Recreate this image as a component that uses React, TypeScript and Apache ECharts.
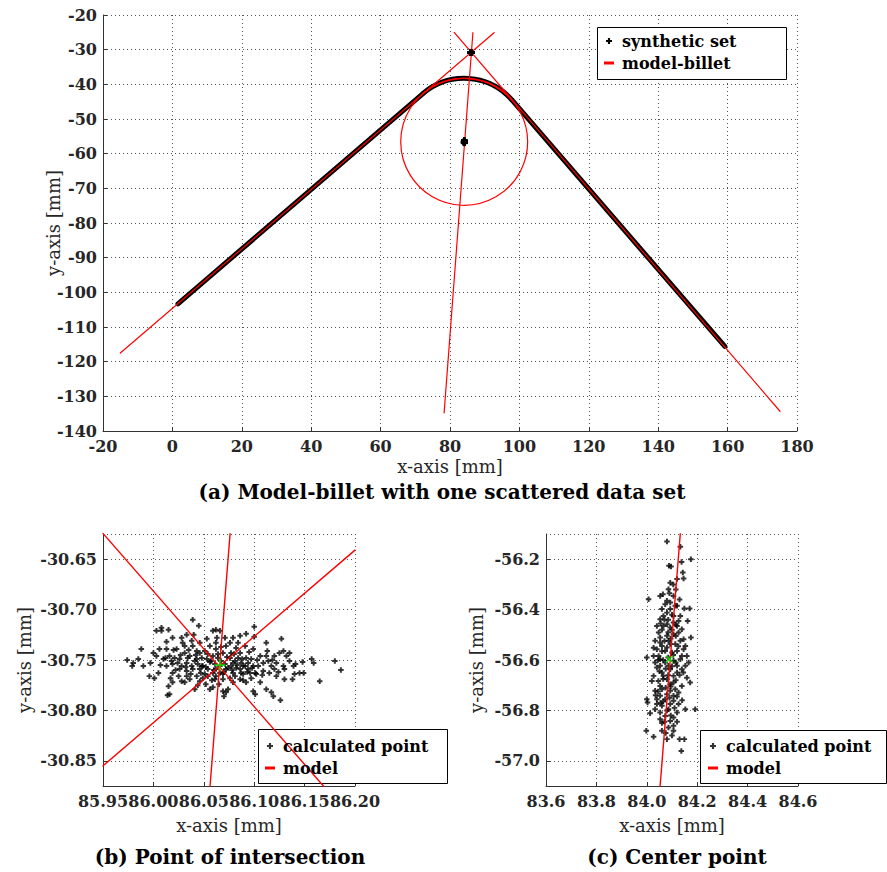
import React, { useEffect, useRef } from "react";
import * as echarts from "echarts";

const FONT = "DejaVu Serif";

// ---------- (a) model-billet ----------
const xTicksA = { min: -20, max: 180, interval: 20 };
const yTicksA = { min: -140, max: -20, interval: 10 };
const bandLeftSegment = [[1.6, -103.3], [72.2, -42.7]];
const bandRightSegment = [[97.96, -44.66], [159.2, -115.6]];
// cx, cy, r, arc from angle, arc to angle (deg, data frame)
const profileArc = [[84.09, -56.59, 18.3, 40.7, 130.6]];
const modelLeftLine = [[-15, -117.5], [92.7, -25.1]];
const modelRightLine = [[81.2, -25.0], [175.1, -134.3]];
const modelBisectorA = [[78.3, -134.8], [86.6, -25.1]];
const modelCircle = [[84.09, -56.59, 18.3]];

// ---------- (b) point of intersection ----------
const xRangeB = { min: 85.95, max: 86.2, interval: 0.05 };
const yRangeB = { min: -30.875, max: -30.625 };
const pointsB = [
  [86.180,-30.751],[86.186,-30.760],[86.165,-30.771],[86.157,-30.749],[86.159,-30.753],[86.148,-30.752],[86.141,-30.754],[86.149,-30.763],[86.145,-30.763],[86.140,-30.764],
  [86.126,-30.790],[86.127,-30.729],[86.138,-30.769],[86.130,-30.769],[86.130,-30.759],[86.125,-30.743],[86.129,-30.741],[86.120,-30.746],[86.112,-30.733],[86.100,-30.717],
  [86.086,-30.726],[86.092,-30.724],[86.079,-30.728],[86.076,-30.733],[86.066,-30.721],[86.062,-30.720],[86.059,-30.721],[86.045,-30.716],[86.039,-30.710],[86.033,-30.725],
  [86.028,-30.728],[86.019,-30.728],[86.013,-30.732],[86.008,-30.721],[86.003,-30.721],[86.008,-30.718],[86.015,-30.720],[85.980,-30.753],[85.979,-30.756],[85.988,-30.739],
  [85.985,-30.749],[85.990,-30.756],[85.997,-30.753],[86.000,-30.743],[86.003,-30.746],[85.996,-30.766],[86.001,-30.768],[86.005,-30.763],[86.015,-30.776],[86.016,-30.784],
  [86.019,-30.772],[86.028,-30.771],[86.031,-30.772],[86.033,-30.766],[86.041,-30.779],[86.046,-30.771],[86.056,-30.779],[86.059,-30.777],[86.069,-30.781],[86.072,-30.782],
  [86.074,-30.779],[86.079,-30.772],[86.086,-30.769],[86.092,-30.772],[86.099,-30.781],[86.101,-30.784],[86.106,-30.772],[86.112,-30.779],[86.117,-30.782],[86.119,-30.786],
  [86.122,-30.766],[86.109,-30.761],[86.099,-30.756],[86.089,-30.756],[86.079,-30.753],[86.092,-30.748],[86.106,-30.746],[86.112,-30.746],[86.099,-30.739],[86.086,-30.743],
  [86.082,-30.738],[86.072,-30.736],[86.062,-30.739],[86.059,-30.746],[86.053,-30.749],[86.046,-30.743],[86.043,-30.749],[86.036,-30.746],[86.033,-30.753],[86.026,-30.749],
  [86.019,-30.754],[86.016,-30.746],[86.023,-30.739],[86.029,-30.733],[86.039,-30.736],[86.046,-30.733],[86.053,-30.729],[86.049,-30.756],[86.054,-30.759],[86.059,-30.763],
  [86.066,-30.756],[86.072,-30.759],[86.079,-30.763],[86.086,-30.759],[86.076,-30.748],[86.069,-30.743],[86.062,-30.733],[86.046,-30.759],[86.039,-30.759],[86.033,-30.761],
  [86.026,-30.759],[86.019,-30.763],[86.013,-30.756],[86.010,-30.749],[86.006,-30.739],[86.013,-30.739],[86.036,-30.769],[86.043,-30.766],[86.049,-30.768],[86.062,-30.766],
  [86.069,-30.769],[86.076,-30.768],[86.081,-30.766],[86.089,-30.764],[86.096,-30.763],[86.102,-30.764],[86.115,-30.763],[86.129,-30.756],[86.122,-30.753],[86.132,-30.746],
  [86.135,-30.743],[86.135,-30.751],[86.139,-30.756],[86.014,-30.785],[85.974,-30.750],
  [86.051,-30.741],[86.054,-30.744],[86.057,-30.751],[86.061,-30.754],[86.064,-30.748],[86.067,-30.751],[86.071,-30.754],[86.074,-30.758],[86.077,-30.756],[86.081,-30.751],
  [86.084,-30.748],[86.087,-30.753],[86.091,-30.756],[86.094,-30.753],[86.097,-30.749],[86.048,-30.748],[86.044,-30.754],[86.041,-30.751],[86.038,-30.756],[86.034,-30.748],
  [86.031,-30.743],[86.028,-30.756],[86.024,-30.753],[86.021,-30.748],[86.018,-30.751],[86.062,-30.759],[86.066,-30.763],[86.069,-30.764],[86.082,-30.758],[86.087,-30.763],
  [86.094,-30.759],[86.097,-30.768],[86.101,-30.763],[86.104,-30.756],[86.109,-30.753],[86.114,-30.751],[86.117,-30.756],[86.120,-30.759],[86.061,-30.769],[86.054,-30.766],
  [86.051,-30.764],[86.048,-30.756],[86.067,-30.737],[86.077,-30.743],[86.084,-30.733],[86.091,-30.736],[86.056,-30.736],[86.043,-30.741],[86.031,-30.736],[86.038,-30.731],
  [86.056,-30.752],[86.060,-30.760],[86.064,-30.744],[86.070,-30.762],[86.073,-30.747],[86.078,-30.760],[86.083,-30.755],[86.088,-30.749],[86.093,-30.762],[86.098,-30.758],
  [86.052,-30.757],[86.047,-30.763],[86.042,-30.745],[86.037,-30.764],[86.032,-30.757],[86.027,-30.745],[86.022,-30.760],[86.017,-30.768],[86.012,-30.748],[86.007,-30.755],
  [86.058,-30.770],[86.065,-30.774],[86.071,-30.728],[86.080,-30.744],[86.095,-30.742],[86.103,-30.750],[86.108,-30.765],[86.113,-30.741],[86.118,-30.750],[86.124,-30.762],
  [86.044,-30.775],[86.035,-30.740],[86.025,-30.766],[86.052,-30.774],[86.063,-30.728],[86.089,-30.770],[86.100,-30.727],[86.070,-30.786],[86.040,-30.725],[86.020,-30.740],
];
const modelAscB = [[85.95, -30.855], [86.2, -30.641]];
const modelDescB = [[85.94, -30.613], [86.18, -30.888]];
const modelBisB = [[86.055, -30.89], [86.077, -30.613]];
const intersectionModel = [[86.066, -30.755]];

// ---------- (c) center point ----------
const xRangeC = { min: 83.6, max: 84.6, interval: 0.2 };
const yRangeC = { min: -57.1, max: -56.1 };
const pointsC = [
  [84.080,-56.130],[84.175,-56.200],[84.133,-56.151],[84.138,-56.211],[84.088,-56.226],[84.096,-56.229],[84.143,-56.253],[84.146,-56.277],[84.120,-56.279],[84.093,-56.293],
  [84.086,-56.319],[84.064,-56.339],[84.053,-56.346],[84.106,-56.346],[84.007,-56.359],[84.093,-56.372],[84.120,-56.385],[84.149,-56.396],[84.170,-56.396],[84.060,-56.398],
  [84.080,-56.412],[84.106,-56.425],[84.133,-56.425],[84.053,-56.438],[84.162,-56.445],[84.040,-56.465],[84.066,-56.465],[84.093,-56.471],[84.120,-56.465],[84.139,-56.478],
  [84.175,-56.511],[84.106,-56.498],[84.080,-56.504],[84.053,-56.511],[84.033,-56.524],[84.133,-56.524],[84.153,-56.544],[84.093,-56.537],[84.060,-56.544],[84.040,-56.557],
  [84.120,-56.564],[84.000,-56.590],[84.027,-56.584],[84.053,-56.597],[84.073,-56.610],[84.106,-56.603],[84.133,-56.597],[84.153,-56.623],[84.040,-56.630],[84.060,-56.650],
  [84.093,-56.637],[84.120,-56.650],[84.159,-56.670],[84.020,-56.683],[84.046,-56.683],[84.080,-56.676],[84.106,-56.689],[84.139,-56.703],[84.033,-56.722],[84.060,-56.716],
  [84.093,-56.722],[84.126,-56.729],[84.000,-56.756],[84.003,-56.769],[84.040,-56.756],[84.073,-56.756],[84.106,-56.762],[84.153,-56.795],[84.192,-56.795],[84.013,-56.811],
  [84.053,-56.808],[84.086,-56.795],[84.120,-56.808],[84.053,-56.835],[84.093,-56.842],[84.106,-56.861],[84.086,-56.868],[83.998,-56.881],[84.060,-56.881],[84.106,-56.881],
  [84.027,-56.905],[84.080,-56.914],[84.130,-56.914],[84.149,-56.914],[84.137,-56.961],
  [84.066,-56.425],[84.047,-56.491],[84.126,-56.491],[84.086,-56.524],[84.113,-56.537],[84.073,-56.564],[84.100,-56.570],[84.047,-56.584],[84.120,-56.623],[84.086,-56.623],
  [84.053,-56.623],[84.106,-56.663],[84.066,-56.663],[84.093,-56.696],[84.053,-56.703],[84.113,-56.716],[84.080,-56.736],[84.053,-56.742],[84.106,-56.742],[84.093,-56.775],
  [84.060,-56.782],[84.126,-56.775],[84.073,-56.822],[84.106,-56.828],[84.033,-56.795],[84.139,-56.584],[84.139,-56.637],[84.033,-56.610],[84.027,-56.663],[84.159,-56.584],
  [84.146,-56.557],[84.080,-56.458],[84.106,-56.451],[84.126,-56.445],[84.093,-56.398],[84.113,-56.385],[84.073,-56.379],[84.053,-56.531],[84.146,-56.518],[84.027,-56.551],
  [84.166,-56.610],[84.172,-56.689],
  [84.070,-56.440],[84.100,-56.480],[84.085,-56.490],[84.060,-56.480],[84.115,-56.505],[84.095,-56.515],[84.070,-56.525],[84.125,-56.545],[84.080,-56.550],[84.060,-56.565],
  [84.105,-56.580],[84.085,-56.590],[84.065,-56.600],[84.115,-56.610],[84.100,-56.625],[84.075,-56.635],[84.050,-56.645],[84.130,-56.660],[84.085,-56.660],[84.065,-56.675],
  [84.115,-56.680],[84.095,-56.705],[84.075,-56.710],[84.045,-56.725],[84.120,-56.745],[84.090,-56.750],[84.065,-56.765],[84.040,-56.775],[84.110,-56.790],[84.080,-56.800],
  [84.070,-56.845],[84.095,-56.820],[84.060,-56.850],[84.120,-56.845],[84.085,-56.440],[84.115,-56.460],[84.055,-56.455],[84.100,-56.420],[84.080,-56.365],[84.115,-56.320],
  [84.090,-56.335],[84.105,-56.300],[84.130,-56.360],[84.045,-56.600],[84.145,-56.650],[84.035,-56.740],[84.140,-56.760],[84.100,-56.900],[84.075,-56.890],[84.055,-56.770],
];
const modelBisC = [[84.052, -57.11], [84.134, -56.085]];
const centerModel = [[84.09, -56.597]];

// ---------- styling ----------
const PLUS = "path://M1.6,0H3.4V1.6H5V3.4H3.4V5H1.6V3.4H0V1.6H1.6Z";
const GREEN_PLUS = "path://M4.2,0H5.8V4.2H10V5.8H5.8V10H4.2V5.8H0V4.2H4.2Z";
const DASH = "path://M0,0H10V3H0Z";
const RED = "#ff0000";

function makeAxis(gridIndex: number, range: any, name: string, isX: boolean, nameGap: number, digits: number | null) {
  return {
    type: "value",
    gridIndex,
    ...range,
    name,
    nameLocation: "middle",
    nameGap,
    nameMoveOverlap: false,
    nameTextStyle: { color: "#262626", fontFamily: FONT, fontSize: 18 },
    axisLine: { show: true, onZero: false, lineStyle: { color: "#333", width: 1 } },
    axisTick: { show: true, inside: true, length: 4, lineStyle: { color: "#333" } },
    splitLine: { show: true, lineStyle: { color: "#555", type: [1, 3], width: 1 } },
    axisLabel: {
      color: "#262626",
      fontFamily: FONT,
      fontWeight: "bold",
      fontSize: 16,
      margin: isX ? 7 : 6,
      showMinLabel: isX ? true : range.interval ? true : false,
      showMaxLabel: isX ? true : range.interval ? true : false,
      formatter: digits === null ? undefined : (v: number) => v.toFixed(digits),
    },
  };
}

function legendOpt(left: number, top: number, names: string[], icons: string[], colors: string[]) {
  return {
    show: true,
    orient: "vertical",
    left,
    top,
    padding: 0,
    itemWidth: 10,
    itemHeight: 6,
    itemGap: 6,
    selectedMode: false,
    textStyle: { fontFamily: FONT, fontWeight: "bold", fontSize: 16, color: "#000", padding: [0, 0, 0, 3] },
    data: names.map((n, i) => ({ name: n, icon: icons[i], itemStyle: { color: colors[i], borderWidth: 0 } })),
  };
}

function arcRender(color: string, width: number) {
  return (params: any, api: any) => {
    const c = api.coord([api.value(0), api.value(1)]);
    const s = api.size([api.value(2), api.value(2)]);
    const r = (s[0] + s[1]) / 2;
    return {
      type: "arc",
      shape: {
        cx: c[0], cy: c[1], r,
        startAngle: (-api.value(4) * Math.PI) / 180,
        endAngle: (-api.value(3) * Math.PI) / 180,
        clockwise: true,
      },
      style: { fill: "none", stroke: color, lineWidth: width },
    };
  };
}

function circleRender(params: any, api: any) {
  const c = api.coord([api.value(0), api.value(1)]);
  const s = api.size([api.value(2), api.value(2)]);
  const r = (s[0] + s[1]) / 2;
  return { type: "circle", shape: { cx: c[0], cy: c[1], r }, style: { fill: "none", stroke: RED, lineWidth: 1.2 } };
}

function lineSeries(name: string, data: number[][], idx: number, color: string, width: number, z = 3) {
  return {
    type: "line", name, data, xAxisIndex: idx, yAxisIndex: idx, showSymbol: false, symbol: "none",
    clip: true, z, silent: true,
    itemStyle: { color }, lineStyle: { color, width, cap: "round" },
  };
}

const titleStyle = { fontFamily: FONT, fontWeight: "bold", fontSize: 20, fill: "#000", textAlign: "center", textVerticalAlign: "middle" };

function buildOption() {
  return {
    animation: false,
    backgroundColor: "#fff",
    grid: [
      { left: 103, top: 15, width: 694, height: 416 },
      { left: 103, top: 534, width: 252, height: 252 },
      { left: 546, top: 534, width: 252, height: 252 },
    ],
    xAxis: [
      makeAxis(0, xTicksA, "x-axis [mm]", true, 26, null),
      makeAxis(1, xRangeB, "x-axis [mm]", true, 30, 2),
      makeAxis(2, xRangeC, "x-axis [mm]", true, 30, 1),
    ],
    yAxis: [
      makeAxis(0, yTicksA, "y-axis [mm]", false, 41, null),
      makeAxis(1, yRangeB, "y-axis [mm]", false, 70, 2),
      makeAxis(2, yRangeC, "y-axis [mm]", false, 61, 1),
    ],
    legend: [
      legendOpt(604, 33, ["synthetic set", "model-billet"], [PLUS, DASH], ["#000", RED]),
      legendOpt(265, 738, ["calculated point", "model"], [PLUS, DASH], ["#000", RED]),
      legendOpt(708, 738, ["calculated point", "model"], [PLUS, DASH], ["#000", RED]),
    ],
    graphic: [
      { type: "rect", z: 3, shape: { x: 597.5, y: 27.5, width: 189, height: 52 }, style: { fill: "#fff", stroke: "#000", lineWidth: 1 } },
      { type: "rect", z: 3, shape: { x: 258.5, y: 729.5, width: 189, height: 54 }, style: { fill: "#fff", stroke: "#000", lineWidth: 1 } },
      { type: "rect", z: 3, shape: { x: 700.5, y: 730.5, width: 186, height: 53 }, style: { fill: "#fff", stroke: "#000", lineWidth: 1 } },
      { type: "text", x: 442, y: 492, style: { text: "(a) Model-billet with one scattered data set", ...titleStyle } },
      { type: "text", x: 230, y: 857, style: { text: "(b) Point of intersection", ...titleStyle } },
      { type: "text", x: 677, y: 857, style: { text: "(c) Center point", ...titleStyle } },
    ],
    series: [
      // (a)
      lineSeries("synthetic set", bandLeftSegment, 0, "#000", 5, 2),
      lineSeries("synthetic set", bandRightSegment, 0, "#000", 5, 2),
      {
        type: "custom", name: "synthetic set", xAxisIndex: 0, yAxisIndex: 0, z: 2, silent: true,
        itemStyle: { color: "#000" }, data: profileArc, renderItem: arcRender("#000", 5),
      },
      {
        type: "scatter", name: "calculated (a)", xAxisIndex: 0, yAxisIndex: 0, z: 4, silent: true,
        symbol: PLUS, symbolSize: 6, itemStyle: { color: "#000" }, data: [...pointsB, ...pointsC],
      },
      lineSeries("model-billet", modelLeftLine, 0, RED, 1.2),
      lineSeries("model-billet", modelRightLine, 0, RED, 1.2),
      lineSeries("model-billet", modelBisectorA, 0, RED, 1.2),
      {
        type: "custom", name: "model-billet", xAxisIndex: 0, yAxisIndex: 0, z: 3, silent: true,
        itemStyle: { color: RED }, data: profileArc, renderItem: arcRender(RED, 1.4),
      },
      {
        type: "custom", name: "model-billet", xAxisIndex: 0, yAxisIndex: 0, z: 3, silent: true,
        itemStyle: { color: RED }, data: modelCircle, renderItem: circleRender,
      },
      // (b)
      {
        type: "scatter", name: "calculated point", xAxisIndex: 1, yAxisIndex: 1, z: 2, silent: true,
        symbol: PLUS, symbolSize: 5.5, itemStyle: { color: "#000" }, data: pointsB,
      },
      lineSeries("model", modelAscB, 1, RED, 1.4),
      lineSeries("model", modelDescB, 1, RED, 1.4),
      lineSeries("model", modelBisB, 1, RED, 1.4),
      {
        type: "scatter", name: "model point b", xAxisIndex: 1, yAxisIndex: 1, z: 5, silent: true,
        symbol: GREEN_PLUS, symbolSize: 11, itemStyle: { color: "#00ee00" }, data: intersectionModel,
      },
      // (c)
      {
        type: "scatter", name: "calculated point", xAxisIndex: 2, yAxisIndex: 2, z: 2, silent: true,
        symbol: PLUS, symbolSize: 5.5, itemStyle: { color: "#000" }, data: pointsC,
      },
      lineSeries("model", modelBisC, 2, RED, 1.4),
      {
        type: "scatter", name: "model point c", xAxisIndex: 2, yAxisIndex: 2, z: 5, silent: true,
        symbol: GREEN_PLUS, symbolSize: 10, symbolRotate: 45, itemStyle: { color: "#00ee00" }, data: centerModel,
      },
    ],
  };
}

export default function App() {
  const ref = useRef<HTMLDivElement>(null);
  useEffect(() => {
    if (!ref.current) return;
    const chart = echarts.init(ref.current, null, { renderer: "svg" });
    chart.setOption(buildOption() as any);
    return () => chart.dispose();
  }, []);
  return (
    <div
      ref={ref}
      style={{ position: "fixed", left: 0, top: 0, width: 887, height: 872, background: "#fff" }}
    />
  );
}
